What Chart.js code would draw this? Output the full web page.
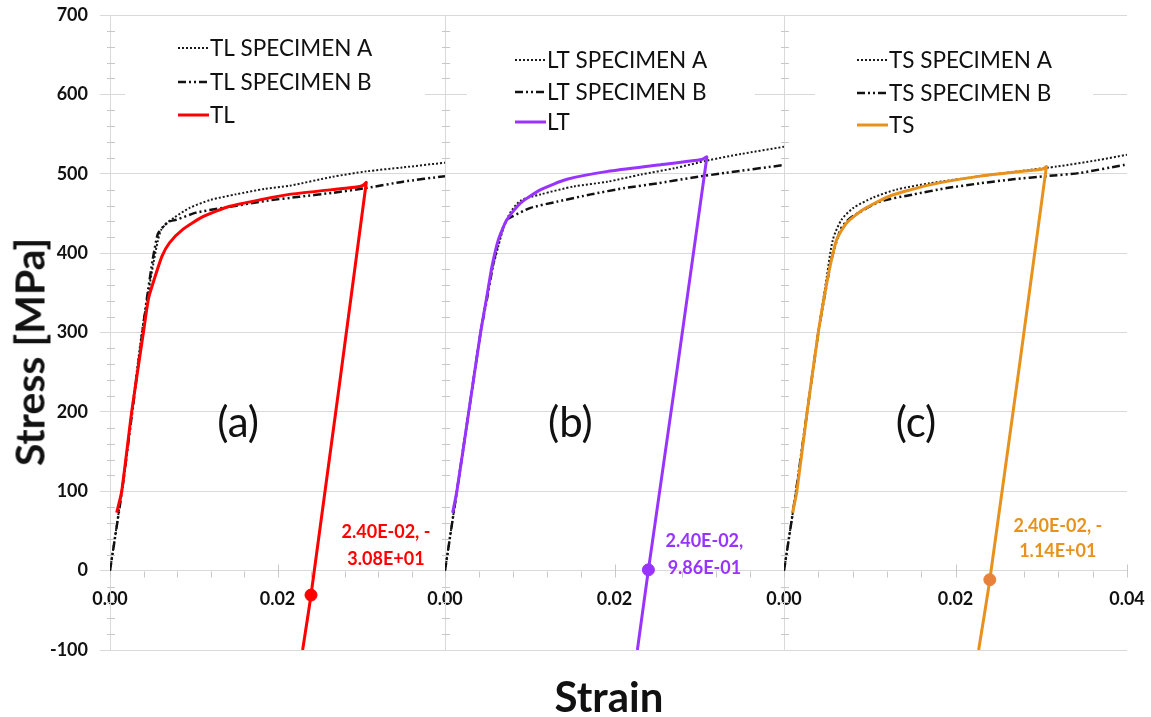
<!DOCTYPE html>
<html>
<head>
<meta charset="utf-8">
<title>Stress-strain curves</title>
<script src="https://cdn.jsdelivr.net/npm/chart.js@4.4.1/dist/chart.umd.min.js"></script>
<style>
  html, body { margin: 0; padding: 0; background: #ffffff; }
  #wrap { position: relative; width: 1151px; height: 717px; overflow: hidden; font-family: Lato, "Open Sans", sans-serif; }
  #wrap canvas { position: absolute; top: 0; }
  .axis-title { position: absolute; font-weight: 700; color: #111; white-space: nowrap; transform: translate(-50%, -50%); }
  #ytitle { left: 29px; top: 352px; font-size: 41px; transform: translate(-50%, -50%) rotate(-90deg); }
  #xtitle { left: 609px; top: 696px; font-size: 42px; }
</style>
</head>
<body>
<div id="wrap">
  <canvas id="c1" width="445" height="717" style="left:0px"></canvas>
  <canvas id="c2" width="359" height="717" style="left:425px"></canvas>
  <canvas id="c3" width="387" height="717" style="left:764px"></canvas>
  <div class="axis-title" id="ytitle">Stress [MPa]</div>
  <div class="axis-title" id="xtitle">Strain</div>
</div>
<script>
// ---- tick values ----
const stressTicks = [-100, 0, 100, 200, 300, 400, 500, 600, 700];
const strainTicks = [0, 0.02, 0.04];

// ---- TL orientation: [strain, stress MPa] ----
const tlSpecimenA = [[0,0],[0.0014,100],[0.0026,200],[0.0038,300],[0.0046,352],[0.0052,388],[0.0057,415],[0.0061,429],[0.0068,438],[0.0077,445],[0.0095,457],[0.012,467],[0.015,474],[0.0185,481],[0.0215,485],[0.0265,496],[0.0306,503],[0.035,508],[0.040,514]];
const tlSpecimenB = [[0,0],[0.0014,98],[0.0026,195],[0.0038,295],[0.0045,350],[0.0051,392],[0.0056,420],[0.0058,426],[0.0064,434],[0.0071,440],[0.0079,442],[0.0103,451],[0.0135,457],[0.0187,466],[0.0226,471],[0.0266,476],[0.0306,482],[0.035,490],[0.040,497]];
const tlCurve = [[0.0008,73],[0.0014,100],[0.0026,201],[0.0040,301],[0.0046,343],[0.0054,371],[0.0062,396],[0.0071,413],[0.0087,430],[0.0111,446],[0.0143,459],[0.0183,468],[0.0214,474],[0.0265,480],[0.0298,484],[0.0303,486],[0.0306,489],[0.0240,-30.8],[0.0230,-100]];
const tlPoint = [0.024, -30.8];

// ---- LT orientation ----
const ltSpecimenA = [[0,0],[0.0014,100],[0.0028,200],[0.0042,300],[0.0053,367],[0.0063,409],[0.0070,435],[0.0077,451],[0.0089,466],[0.0113,474],[0.0152,484],[0.0192,490],[0.0231,499],[0.0271,507],[0.0311,517],[0.035,525],[0.040,534]];
const ltSpecimenB = [[0,0],[0.0014,100],[0.0028,200],[0.0042,300],[0.0050,345],[0.0055,375],[0.0059,396],[0.0066,425],[0.0073,442],[0.0079,446],[0.0101,457],[0.0133,465],[0.0172,474],[0.0212,482],[0.0251,488],[0.0291,495],[0.033,501],[0.040,511]];
const ltCurve = [[0.0009,73],[0.0014,100],[0.0028,200],[0.0042,300],[0.00495,346],[0.00554,383],[0.0063,417],[0.0073,442],[0.0089,463],[0.0113,480],[0.0144,493],[0.0192,503],[0.0251,511],[0.0303,518],[0.0309,521],[0.0240,0.986],[0.0227,-100]];
const ltPoint = [0.024, 0.986];

// ---- TS orientation ----
const tsSpecimenA = [[0,0],[0.0014,100],[0.0027,200],[0.0040,300],[0.0050,371],[0.0057,417],[0.0067,442],[0.0081,457],[0.0104,470],[0.0131,480],[0.017,488],[0.0229,497],[0.0287,505],[0.0318,509],[0.0365,517],[0.040,524]];
const tsSpecimenB = [[0,0],[0.0014,100],[0.0027,200],[0.0040,300],[0.0048,350],[0.0056,395],[0.0066,430],[0.0073,440],[0.0081,447],[0.0112,465],[0.0151,474],[0.019,482],[0.0229,488],[0.0267,493],[0.0306,497],[0.0345,501],[0.0396,511],[0.040,512]];
const tsCurve = [[0.001,73],[0.0015,100],[0.0027,200],[0.0040,300],[0.00478,350],[0.00536,383],[0.00614,417],[0.0073,438],[0.00925,455],[0.01236,472],[0.017,486],[0.0229,497],[0.0287,504],[0.0302,506],[0.0306,509],[0.0240,-11.4],[0.0227,-100]];
const tsPoint = [0.024, -11.4];

const FONT = 'Lato, "Open Sans", sans-serif';
const GRID = '#d9d9d9';
Chart.defaults.font.family = FONT;

const toXY = arr => arr.map(p => ({x: p[0], y: p[1]}));

// Excel-style scientific notation, e.g. 2.40E-02
function sci(v) {
  if (v === 0) return '0.00E+00';
  const e = Math.floor(Math.log10(Math.abs(v)));
  const m = Math.abs(v) / Math.pow(10, e);
  const es = (e < 0 ? '-' : '+') + String(Math.abs(e)).padStart(2, '0');
  return (v < 0 ? '-' : '') + m.toFixed(2) + 'E' + es;
}

const panels = [
  { canvas: 'c1', name: 'TL', color: '#ff0000', pointColor: '#ff0000', labelColor: '#ff0000',
    A: tlSpecimenA, B: tlSpecimenB, main: tlCurve, pt: tlPoint, tag: '(a)', tagAt: [0.0153, 186],
    yWidth: 110, showY: true, padRight: 0, hideLast: true,
    legend: { sx: 68, rows: [33, 67, 100], box: [15, 13, 300, 104] },
    label: { dx: 75, dy1: -63, dy2: -36 } },
  { canvas: 'c2', name: 'LT', color: '#9933ff', pointColor: '#9933ff', labelColor: '#9933ff',
    A: ltSpecimenA, B: ltSpecimenB, main: ltCurve, pt: ltPoint, tag: '(b)', tagAt: [0.0148, 186],
    yWidth: 20, showY: false, padRight: 0, hideLast: true,
    legend: { sx: 70, rows: [45, 77, 107], box: [22, 25, 288, 100] },
    label: { dx: 56, dy1: -29, dy2: -2 } },
  { canvas: 'c3', name: 'TS', color: '#e8921e', pointColor: '#e8823a', labelColor: '#e8921e',
    A: tsSpecimenA, B: tsSpecimenB, main: tsCurve, pt: tsPoint, tag: '(c)', tagAt: [0.0154, 186],
    yWidth: 20, showY: false, padRight: 24, hideLast: false,
    legend: { sx: 73, rows: [45, 78, 110], box: [31, 25, 278, 104] },
    label: { dx: 68, dy1: -53, dy2: -28 } }
];

// Legend box, minor ticks, value label and panel tag
const panelDecor = {
  id: 'panelDecor',
  beforeDatasetsDraw(chart, args, o) {
    const ctx = chart.ctx, area = chart.chartArea;
    const xs = chart.scales.x, ys = chart.scales.y;
    ctx.save();
    // minor stress ticks on the panel's vertical axis
    ctx.strokeStyle = '#c8c8c8';
    ctx.lineWidth = 1;
    ctx.beginPath();
    for (let v = stressTicks[0]; v <= stressTicks[stressTicks.length - 1]; v += 20) {
      if (v % 100 === 0) continue;
      const py = Math.round(ys.getPixelForValue(v)) + 0.5;
      ctx.moveTo(area.left - 3, py); ctx.lineTo(area.left + 5, py);
    }
    // strain ticks along the zero line
    const y0 = Math.round(ys.getPixelForValue(0)) + 0.5;
    for (let i = 0; i <= 10; i++) {
      const v = i * 0.004;
      const px = Math.round(xs.getPixelForValue(v)) + 0.5;
      const major = i % 5 === 0;
      ctx.moveTo(px, major ? y0 - 7 : y0); ctx.lineTo(px, y0 + 6);
    }
    ctx.stroke();

    // legend
    const lg = o.legend;
    ctx.fillStyle = '#ffffff';
    ctx.fillRect(area.left + lg.box[0], area.top + lg.box[1], lg.box[2], lg.box[3]);
    ctx.font = '400 22.5px ' + FONT;
    ctx.textBaseline = 'middle';
    ctx.textAlign = 'left';
    for (let i = 0; i < 3; i++) {
      const ds = chart.data.datasets[i];
      const y = area.top + lg.rows[i];
      const x = area.left + lg.sx;
      ctx.strokeStyle = ds.borderColor;
      ctx.lineWidth = ds.borderWidth;
      ctx.setLineDash(ds.borderDash || []);
      ctx.beginPath(); ctx.moveTo(x, y); ctx.lineTo(x + 31, y); ctx.stroke();
      ctx.setLineDash([]);
      ctx.fillStyle = '#111111';
      ctx.fillText(ds.label, x + 32, y + 1);
    }
    ctx.restore();
  },
  afterDatasetsDraw(chart, args, o) {
    const ctx = chart.ctx;
    const xs = chart.scales.x, ys = chart.scales.y;
    ctx.save();
    // value label next to the marked point
    const el = chart.getDatasetMeta(3).data[0];
    const pv = chart.data.datasets[3].data[0];
    const line1 = sci(pv.x) + ',' + (pv.y < 0 ? ' -' : '');
    const line2 = sci(Math.abs(pv.y));
    ctx.font = '700 18px ' + FONT;
    ctx.fillStyle = o.labelColor;
    ctx.textAlign = 'center';
    ctx.textBaseline = 'middle';
    ctx.fillText(line1, el.x + o.label.dx, el.y + o.label.dy1);
    ctx.fillText(line2, el.x + o.label.dx, el.y + o.label.dy2);
    // panel tag
    ctx.font = '400 42px ' + FONT;
    ctx.fillStyle = '#111111';
    ctx.fillText(o.tag, xs.getPixelForValue(o.tagAt[0]), ys.getPixelForValue(o.tagAt[1]));
    ctx.restore();
  }
};

const noPad = s => { s.paddingLeft = 0; s.paddingRight = 0; s.paddingTop = 0; s.paddingBottom = 0; };

panels.forEach(p => {
  const datasets = [
    { label: p.name + ' SPECIMEN A', data: toXY(p.A), borderColor: '#1a1a1a', borderWidth: 2,
      borderDash: [2, 2], showLine: true, pointRadius: 0, tension: 0.25, order: 3 },
    { label: p.name + ' SPECIMEN B', data: toXY(p.B), borderColor: '#111111', borderWidth: 2.5,
      borderDash: [8, 3, 2, 3, 2, 3], showLine: true, pointRadius: 0, tension: 0.2, order: 2 },
    { label: p.name, data: toXY(p.main), borderColor: p.color, borderWidth: 3,
      showLine: true, pointRadius: 0, tension: 0.2, order: 1 },
    { label: p.name + ' point', data: [{x: p.pt[0], y: p.pt[1]}], showLine: false,
      pointRadius: 6, pointBackgroundColor: p.pointColor, pointBorderColor: p.pointColor, order: 0 }
  ];

  new Chart(document.getElementById(p.canvas), {
    type: 'scatter',
    data: { datasets },
    plugins: [panelDecor],
    options: {
      responsive: false,
      animation: false,
      events: [],
      layout: { autoPadding: false, padding: { top: 15, bottom: 67, left: 0, right: p.padRight } },
      plugins: {
        legend: { display: false },
        tooltip: { enabled: false },
        panelDecor: { legend: p.legend, label: p.label, labelColor: p.labelColor, tag: p.tag, tagAt: p.tagAt }
      },
      scales: {
        x: {
          type: 'linear', min: strainTicks[0], max: strainTicks[strainTicks.length - 1],
          position: { y: 0 },
          afterBuildTicks: s => { s.ticks = strainTicks.map(v => ({ value: v })); },
          afterFit: noPad,
          ticks: {
            padding: 18, color: '#111', font: { size: 18, weight: '700' },
            maxRotation: 0, autoSkip: false,
            callback: (v) => (p.hideLast && v === strainTicks[strainTicks.length - 1]) ? '' : v.toFixed(2)
          },
          grid: { display: false, drawTicks: false },
          border: { display: true, color: GRID, width: 1 }
        },
        y: {
          type: 'linear', min: stressTicks[0], max: stressTicks[stressTicks.length - 1],
          afterBuildTicks: s => { s.ticks = stressTicks.map(v => ({ value: v })); },
          afterFit: s => { s.width = p.yWidth; noPad(s); },
          ticks: {
            display: p.showY, padding: 12, color: '#111', font: { size: 18, weight: '700' },
            callback: v => String(v)
          },
          grid: { color: GRID, lineWidth: 1, drawTicks: p.showY, tickLength: 10, tickColor: GRID },
          border: { display: true, color: GRID, width: 1 }
        }
      }
    }
  });
});
</script>
</body>
</html>
